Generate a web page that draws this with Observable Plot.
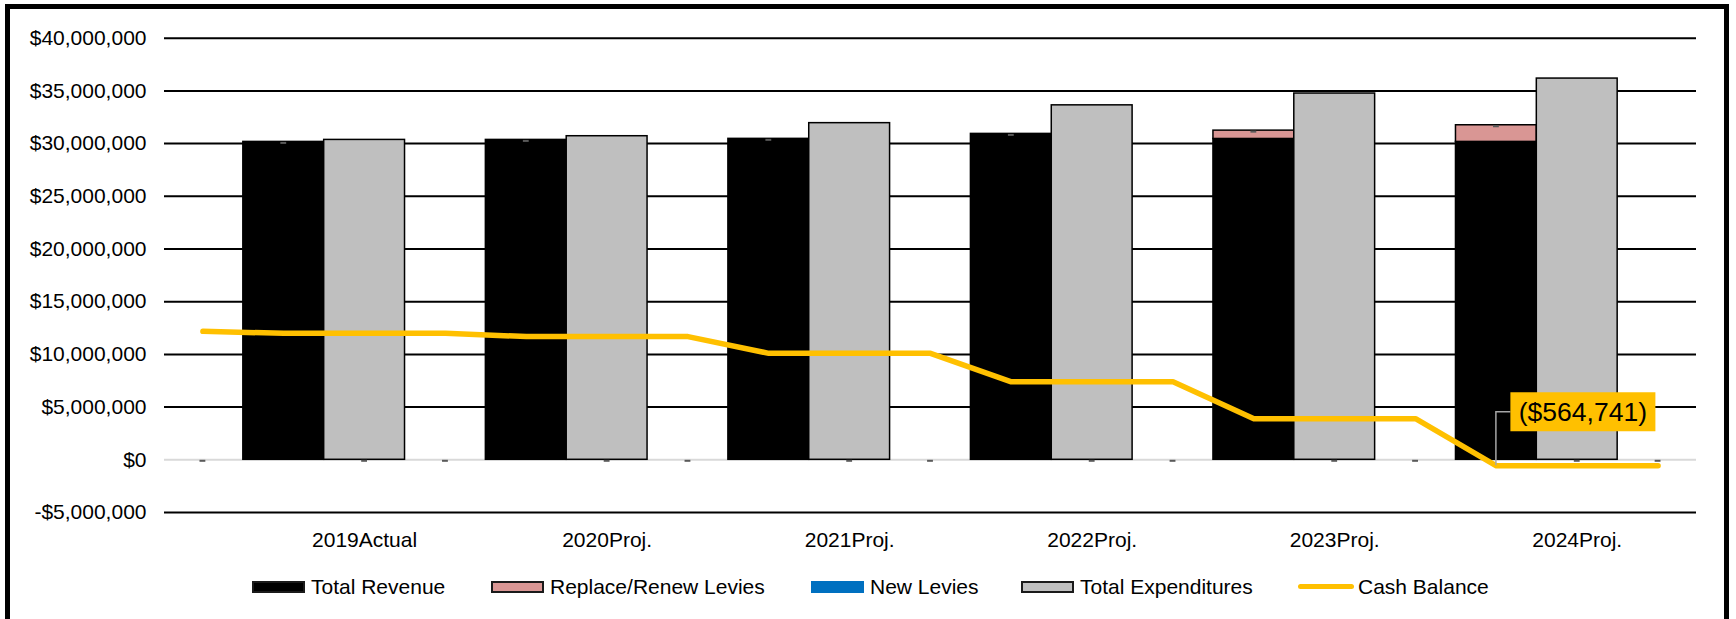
<!DOCTYPE html>
<html>
<head>
<meta charset="utf-8">
<script src="https://cdn.jsdelivr.net/npm/d3@7"></script>
<script src="https://cdn.jsdelivr.net/npm/@observablehq/plot@0.6"></script>
<style>
  html, body { margin: 0; padding: 0; background: #fff; width: 1736px; height: 619px; overflow: hidden;
    font-family: "Liberation Sans", Arial, sans-serif; }
  #chart { position: absolute; left: 0; top: 0; }
  #frame { position: absolute; left: 5px; top: 4px; width: 1714px; height: 700px;
    border: 5px solid #000; border-bottom: none; pointer-events: none; }
  #legend { position: absolute; left: 0; top: 574px; width: 1736px; height: 25px;
    font-size: 21px; color: #000; white-space: nowrap; }
  .item { position: absolute; top: 0; height: 25px; display: flex; align-items: center; }
  .sw { width: 53px; height: 12px; box-sizing: border-box; margin-right: 6px; }
  .ln { width: 56px; height: 5px; border-radius: 3px; margin-right: 4px; }
</style>
</head>
<body>
<div id="chart"></div>
<div id="legend"></div>
<div id="frame"></div>
<script>
// ---- data ----
const years = ["2019", "2020", "2021", "2022", "2023", "2024"];
const yearLabels = ["2019Actual", "2020Proj.", "2021Proj.", "2022Proj.", "2023Proj.", "2024Proj."];
const totalRevenue = [30160000, 30350000, 30450000, 30920000, 30440000, 30160000];
const replaceRenewLevies = [0, 0, 0, 0, 790000, 1580000];
const newLevies = [0, 0, 0, 0, 0, 0];
const totalExpenditures = [30350000, 30700000, 31940000, 33630000, 34750000, 36170000];
const cashBalanceStart = 12190000;
const cashBalance = [12000000, 11690000, 10100000, 7400000, 3900000, -564741];
const yTicks = [-5000000, 0, 5000000, 10000000, 15000000, 20000000, 25000000, 30000000, 35000000, 40000000];

const seriesNames = ["Total Revenue", "Replace/Renew Levies", "New Levies", "Total Expenditures", "Cash Balance"];
const seriesColors = ["#000000", "#d99694", "#0070c0", "#bfbfbf", "#ffc000"];
const legendLefts = [252, 491, 811, 1021, 1298];

// ---- derived tables ----
const slotsOf = y => [y + " rev", y + " exp", y + " gap"];
const slots = ["start", ...years.flatMap(slotsOf)];
const labelOf = new Map(years.map((y, i) => [y + " exp", yearLabels[i]]));

const stackRows = years.flatMap((y, i) => [
  {slot: y + " rev", series: seriesNames[0], value: totalRevenue[i]},
  {slot: y + " rev", series: seriesNames[1], value: replaceRenewLevies[i]},
  {slot: y + " rev", series: seriesNames[2], value: newLevies[i]}
]).filter(d => d.value !== 0);
const expRows = years.map((y, i) => ({slot: y + " exp", series: seriesNames[3], value: totalExpenditures[i]}));
const cashRows = [{slot: "start", value: cashBalanceStart},
  ...years.flatMap((y, i) => slotsOf(y).map(s => ({slot: s, value: cashBalance[i]})))];
const markerRows = [{slot: "start", value: 0}, ...years.flatMap((y, i) => [
  {slot: y + " rev", value: totalRevenue[i] + replaceRenewLevies[i] + newLevies[i]},
  {slot: y + " exp", value: 0},
  {slot: y + " gap", value: 0}
])];

const fmtMoney = v => (v < 0 ? "-$" : "$") + d3.format(",")(Math.abs(v));
const fmtParen = v => v < 0 ? "($" + d3.format(",")(-v) + ")" : "$" + d3.format(",")(v);

const lastIdx = years.length - 1;
const annoSlot = years[lastIdx] + " rev";
const annoValue = cashBalance[lastIdx];

function annotation(index, scales) {
  const xs = scales.x, ys = scales.y;
  const bw = typeof xs.bandwidth === "function" ? xs.bandwidth() : (xs(slots[1]) - xs(slots[0]));
  const px = xs(annoSlot) + bw / 2;
  const py = ys(annoValue);
  const g = d3.create("svg:g");
  const boxX = px + 14.5, cy = py - 53.5, w = 145, h = 39;
  g.append("path")
    .attr("d", `M${px},${py}V${cy}H${boxX}`)
    .attr("fill", "none").attr("stroke", "#a6a6a6").attr("stroke-width", 1.5);
  g.append("rect")
    .attr("x", boxX).attr("y", cy - h / 2).attr("width", w).attr("height", h)
    .attr("fill", "#ffc000");
  g.append("text")
    .attr("x", boxX + w / 2).attr("y", cy).attr("dy", "0.36em")
    .attr("text-anchor", "middle").attr("fill", "#000")
    .style("font-size", "26.5px")
    .text(fmtParen(annoValue));
  return g.node();
}

const plot = Plot.plot({
  width: 1736,
  height: 560,
  marginLeft: 162,
  marginRight: 38,
  marginTop: 37.7,
  marginBottom: 48,
  style: {fontFamily: "'Liberation Sans', Arial, sans-serif", fontSize: "21px", color: "#000",
          background: "transparent", overflow: "visible"},
  x: {type: "band", domain: slots, padding: 0, round: false, tickSize: 0, tickPadding: 20, label: null,
      tickFormat: s => labelOf.get(s) ?? ""},
  y: {domain: [-5000000, 40000000], ticks: yTicks, tickFormat: fmtMoney, tickSize: 0, tickPadding: 16, label: null},
  color: {domain: seriesNames, range: seriesColors},
  marks: [
    Plot.ruleY(yTicks.filter(d => d !== 0), {stroke: "#000", strokeWidth: 2, insetLeft: 2, insetRight: 2}),
    Plot.ruleY([0], {stroke: "#d9d9d9", strokeWidth: 2, insetLeft: 2, insetRight: 2}),
    Plot.barY(stackRows, {x: "slot", y: "value", fill: "series", stroke: "#000", strokeWidth: 1.5}),
    Plot.barY(expRows, {x: "slot", y: "value", fill: "series", stroke: "#000", strokeWidth: 1.5}),
    Plot.tickY(markerRows, {x: "slot", y: "value", stroke: "#595959", strokeWidth: 2, insetLeft: 37.5, insetRight: 37.5, dy: 1}),
    Plot.line(cashRows, {x: "slot", y: "value", stroke: seriesColors[4], strokeWidth: 5.5,
      strokeLinecap: "round", strokeLinejoin: "round"}),
    annotation
  ]
});
document.getElementById("chart").appendChild(plot);

// ---- legend ----
const legend = d3.select("#legend");
seriesNames.forEach((name, i) => {
  const item = legend.append("div").attr("class", "item").style("left", legendLefts[i] + "px");
  if (i === seriesNames.length - 1) {
    item.append("div").attr("class", "ln").style("background", seriesColors[i]);
  } else {
    const sw = item.append("div").attr("class", "sw").style("background", seriesColors[i]);
    if (seriesNames[i] !== "New Levies") sw.style("border", "2px solid #1a1a1a");
  }
  item.append("span").text(name);
});
</script>
</body>
</html>
